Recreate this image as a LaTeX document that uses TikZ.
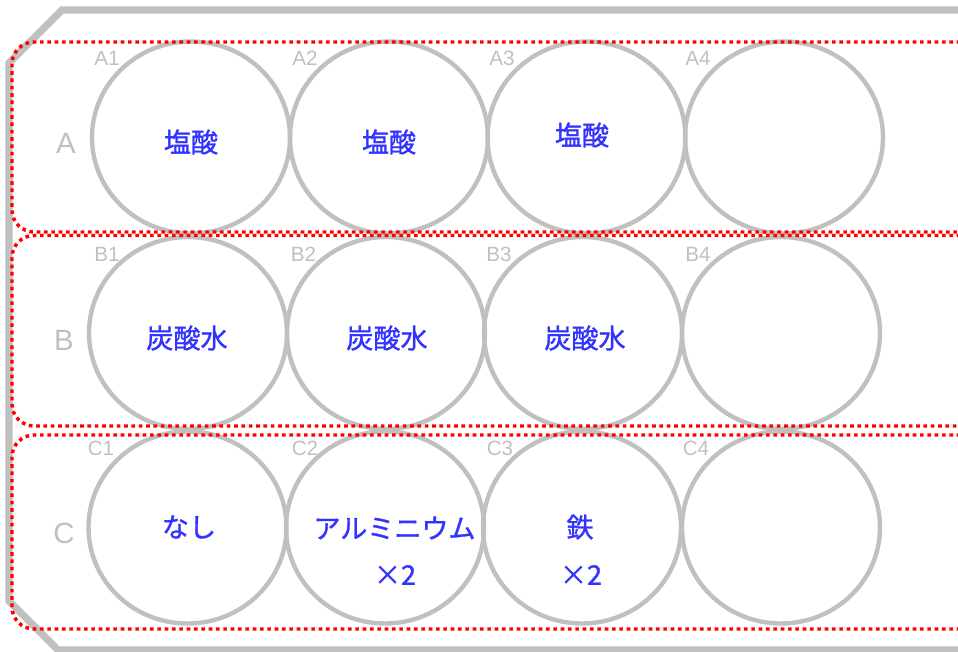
\documentclass[tikz,border=0pt]{standalone}
\usepackage{fontspec}
\setmainfont{Liberation Sans}
\newfontfamily\jpfont[FakeBold=1.2]{Noto Sans CJK JP}
\usetikzlibrary{shapes.geometric}

\begin{document}
\begin{tikzpicture}[x=0.75pt, y=-0.75pt,
  well/.style={ellipse, draw=plategray, line width=3.3pt, minimum width=148.5pt, minimum height=144pt, inner sep=0pt},
  band/.style={draw=bandred, line width=2.6pt, dash pattern=on 2.7pt off 2.8pt, rounded corners=16.5pt},
  wellid/.style={text=plategray, inner sep=0pt, font=\fontsize{15.5}{17}\selectfont},
  rowid/.style={text=plategray, inner sep=0pt, font=\fontsize{22}{24}\selectfont},
  reagent/.style={text=reagentblue, inner sep=0pt, font=\jpfont\fontsize{20.3}{23}\selectfont}]
  \definecolor{plategray}{RGB}{192,192,192}
  \definecolor{bandred}{RGB}{255,0,0}
  \definecolor{reagentblue}{RGB}{51,51,255}

  \def\rowA{137.5}
  \def\rowB{333}
  \def\rowC{527.5}
  \def\bandleft{12}
  \def\bandend{975}

  \useasboundingbox (0,0) rectangle (958,652);

  % plate outline
  \draw[plategray, line width=5.5pt] (\bandend,10) -- (62,10) -- (9,63) -- (9,601) -- (58,650) -- (\bandend,650);

  % wells, row A
  \node[well] (A1) at (191,\rowA) {};
  \node[well] (A2) at (389,\rowA) {};
  \node[well] (A3) at (586.5,\rowA) {};
  \node[well] (A4) at (784,\rowA) {};
  % wells, row B
  \node[well] (B1) at (188,\rowB) {};
  \node[well] (B2) at (386,\rowB) {};
  \node[well] (B3) at (583,\rowB) {};
  \node[well] (B4) at (781,\rowB) {};
  % wells, row C
  \node[well] (C1) at (187.5,\rowC) {};
  \node[well] (C2) at (385,\rowC) {};
  \node[well] (C3) at (582,\rowC) {};
  \node[well] (C4) at (781,\rowC) {};

  % dotted row bands
  \draw[band] (\bandend,42) -- (\bandleft,42) -- (\bandleft,232) -- (\bandend,232);
  \draw[band] (\bandend,235.5) -- (\bandleft,235.5) -- (\bandleft,426) -- (\bandend,426);
  \draw[band] (\bandend,435) -- (\bandleft,435) -- (\bandleft,629) -- (\bandend,629);

  % row letters
  \node[rowid] (rowa) at (66,143) {A};
  \node[rowid] (rowb) at (64,340) {B};
  \node[rowid] (rowc) at (64,533) {C};

  % well names
  \node[wellid] (A1id) at (107,58) {A1};
  \node[wellid] (A2id) at (305,58) {A2};
  \node[wellid] (A3id) at (502,58) {A3};
  \node[wellid] (A4id) at (698,58) {A4};
  \node[wellid] (B1id) at (107,254) {B1};
  \node[wellid] (B2id) at (303.5,254) {B2};
  \node[wellid] (B3id) at (499,254) {B3};
  \node[wellid] (B4id) at (698,254) {B4};
  \node[wellid] (C1id) at (101,448) {C1};
  \node[wellid] (C2id) at (305,448) {C2};
  \node[wellid] (C3id) at (500,448) {C3};
  \node[wellid] (C4id) at (696,448) {C4};

  % contents
  \node[reagent] (A1txt) at (191,142) {塩酸};
  \node[reagent] (A2txt) at (389,142) {塩酸};
  \node[reagent] (A3txt) at (582,135) {塩酸};
  \node[reagent] (B1txt) at (187,338) {炭酸水};
  \node[reagent] (B2txt) at (387,338) {炭酸水};
  \node[reagent] (B3txt) at (585,338) {炭酸水};
  \node[reagent] (C1txt) at (189,527) {なし};
  \node[reagent] (C2txt) at (394.5,528) {アルミニウム};
  \node[reagent] (C2num) at (395,575) {×2};
  \node[reagent] (C3txt) at (580,527) {鉄};
  \node[reagent] (C3num) at (581,575) {×2};

\end{tikzpicture}
\end{document}
